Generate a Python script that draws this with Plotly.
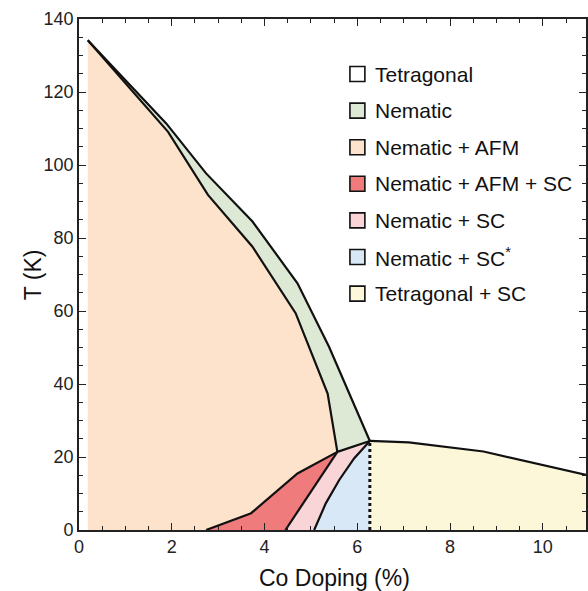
import plotly.graph_objects as go

# ---------------- data ----------------
# Structural transition T_S (Tetragonal -> Nematic), outer line
ts_x = [0.19, 1.88, 2.74, 3.74, 4.71, 5.39, 6.27]
ts_y = [134.2, 111.4, 97.7, 84.5, 67.6, 50.2, 24.4]
# Magnetic transition T_N (Nematic -> Nematic + AFM), inner line
tn_x = [0.19, 1.92, 2.78, 3.74, 4.67, 5.36, 5.57]
tn_y = [134.2, 109.1, 91.8, 77.6, 59.4, 37.4, 21.4]
# Upper boundary of Nematic + AFM + SC
tc_afm_x = [2.74, 3.71, 4.71, 5.57]
tc_afm_y = [0.0, 4.6, 15.5, 21.4]
# Right boundary of Nematic + AFM + SC
afm_sc_x = [4.45, 5.57]
afm_sc_y = [0.0, 21.4]
# Boundary Nematic + SC / Nematic + SC*
sc_star_x = [5.07, 5.32, 5.61, 5.93, 6.27]
sc_star_y = [0.0, 7.3, 13.7, 19.6, 24.4]
# Tc between the two meeting points
tc_top_x = [5.57, 6.27]
tc_top_y = [21.4, 24.4]
# Tetragonal superconducting dome
dome_x = [6.27, 7.11, 8.72, 11.0]
dome_y = [24.4, 24.0, 21.5, 14.9]
# Nematic end point (dotted vertical)
x_nem_end = 6.27

legend_labels = ["Tetragonal", "Nematic", "Nematic + AFM", "Nematic + AFM + SC",
                 "Nematic + SC", "Nematic + SC<sup>*</sup>", "Tetragonal + SC"]
c_tet = "#ffffff"
c_nem = "#dde9d5"
c_afm = "#fde3cb"
c_afmsc = "#ef7b7c"
c_sc = "#f9d5d8"
c_scstar = "#d8e8f6"
c_tetsc = "#fdf7d9"
legend_colors = [c_tet, c_nem, c_afm, c_afmsc, c_sc, c_scstar, c_tetsc]

x_ticks = [0, 2, 4, 6, 8, 10]
y_ticks = [0, 20, 40, 60, 80, 100, 120, 140]

LINE = "#111111"
FONT = "Liberation Sans, Arial, sans-serif"

fig = go.Figure()

def fill(xs, ys, color):
    fig.add_trace(go.Scatter(x=xs, y=ys, mode="none", fill="toself",
                             fillcolor=color, hoverinfo="skip", showlegend=False))

def line(xs, ys, dash="solid", width=2.2):
    fig.add_trace(go.Scatter(x=xs, y=ys, mode="lines",
                             line=dict(color=LINE, width=width, dash=dash),
                             hoverinfo="skip", showlegend=False))

# Nematic + AFM
fill([tn_x[0]] + tn_x + tc_afm_x[::-1][1:],
     [0.0] + tn_y + tc_afm_y[::-1][1:], c_afm)
# Nematic
fill(ts_x + tc_top_x[::-1][1:] + tn_x[::-1][1:],
     ts_y + tc_top_y[::-1][1:] + tn_y[::-1][1:], c_nem)
# Nematic + AFM + SC
fill(tc_afm_x + afm_sc_x[::-1][1:], tc_afm_y + afm_sc_y[::-1][1:], c_afmsc)
# Nematic + SC
fill(afm_sc_x + tc_top_x[1:] + sc_star_x[::-1][1:],
     afm_sc_y + tc_top_y[1:] + sc_star_y[::-1][1:], c_sc)
# Nematic + SC*
fill(sc_star_x + [x_nem_end], sc_star_y + [0.0], c_scstar)
# Tetragonal + SC
fill([x_nem_end] + dome_x + [dome_x[-1]], [0.0] + dome_y + [0.0], c_tetsc)

# boundaries
line(ts_x, ts_y)
line(tn_x, tn_y)
line(tc_afm_x, tc_afm_y)
line(afm_sc_x, afm_sc_y)
line(sc_star_x, sc_star_y)
line(tc_top_x, tc_top_y)
line(dome_x, dome_y)
line([x_nem_end, x_nem_end], [0.0, dome_y[0]], dash="3px,3px", width=3)

# ---------------- layout ----------------
W, H = 588, 591
L, R, T, B = 79, 0, 19, 61
pw, ph = W - L - R, H - T - B

def px(xp):
    return (xp - L) / pw

def py(yp):
    return (H - B - yp) / ph

shapes = []
annotations = []
for i, (lab, col) in enumerate(zip(legend_labels, legend_colors)):
    cy = 74 + i * 36.6
    shapes.append(dict(type="rect", xref="paper", yref="paper",
                       x0=px(351), x1=px(366), y0=py(cy + 7.5), y1=py(cy - 7.5),
                       fillcolor=col, line=dict(color=LINE, width=1.6)))
    annotations.append(dict(xref="paper", yref="paper", x=px(374), y=py(cy),
                            xanchor="left", yanchor="middle", text=lab,
                            showarrow=False, font=dict(family=FONT, size=21, color=LINE)))

annotations.append(dict(xref="paper", yref="paper", x=px(336), y=py(578),
                        xanchor="center", yanchor="middle", text="Co Doping (%)",
                        showarrow=False, font=dict(family=FONT, size=23, color=LINE)))
annotations.append(dict(xref="paper", yref="paper", x=px(33), y=py(275),
                        xanchor="center", yanchor="middle", text="T (K)", textangle=-90,
                        showarrow=False, font=dict(family=FONT, size=23, color=LINE)))

axis_common = dict(showline=True, linecolor="#222222", linewidth=1.6, mirror="allticks",
                   ticks="inside", ticklen=7, tickwidth=1.4, tickcolor="#222222",
                   showgrid=False, zeroline=False,
                   tickfont=dict(family=FONT, size=18, color="#222222"))

fig.update_layout(
    width=W, height=H,
    margin=dict(l=L, r=R, t=T, b=B, pad=0),
    paper_bgcolor="white", plot_bgcolor="white",
    showlegend=False,
    xaxis=dict(range=[0, 10.93], tickvals=x_ticks, ticktext=[str(v) for v in x_ticks],
               minor=dict(dtick=0.5, tick0=0, ticks="inside", ticklen=4, tickwidth=1.2,
                          tickcolor="#222222"),
               **axis_common),
    yaxis=dict(range=[0, 140], tickvals=y_ticks, ticktext=[str(v) for v in y_ticks],
               minor=dict(dtick=5, tick0=0, ticks="inside", ticklen=4, tickwidth=1.2,
                          tickcolor="#222222"),
               **axis_common),
    shapes=shapes,
    annotations=annotations,
)

fig.write_html("out.html")
